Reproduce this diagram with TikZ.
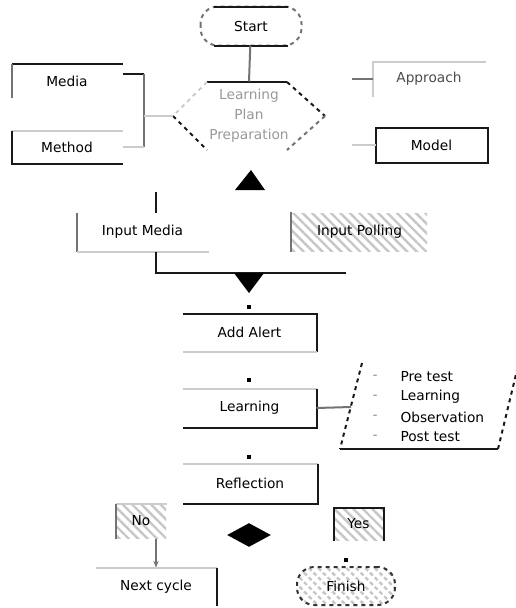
\documentclass[tikz,border=0pt]{standalone}
\usepackage{fontspec}
\setmainfont{DejaVu Sans}
\usetikzlibrary{shapes.geometric,patterns.meta,arrows.meta}

\tikzset{every picture/.style={line width=0.75pt}}
\tikzset{
  dk/.style={draw=black!90, line width=1.5pt},
  gy/.style={draw=black!55, line width=1.5pt},
  lt/.style={draw=black!20, line width=1.5pt},
  box/.style={inner sep=0.75pt, font=\fontsize{10.3}{12}\selectfont},
  hatch/.style={pattern={Lines[angle=-45,distance=5pt,line width=1.8pt]}, pattern color=black!22},
  dot/.style={fill=black, minimum size=2.4pt, inner sep=0pt}
}

\begin{document}
\begin{tikzpicture}[x=0.75pt,y=0.75pt,yscale=-1,xscale=1]
\useasboundingbox (0,0) rectangle (516,608);

%Shape: Terminal [id:start]
\node[box, minimum width=75pt, minimum height=28.5pt] (start) at (251,26) {Start};
\draw[gy, dashed, rounded corners=13pt] (start.north west) rectangle (start.south east);
\draw[dk] ([xshift=10pt]start.north west) -- ([xshift=-10pt]start.north east);
\draw[dk] ([xshift=10pt]start.south west) -- ([xshift=-10pt]start.south east);

%Shape: Hexagon [id:plan]
\node[box, text=black!40, align=center, minimum width=114pt, minimum height=51pt, font=\fontsize{10.3}{15}\selectfont] (plan) at (249,116) {Learning\\Plan\\Preparation};
\draw[dk] (207,82) -- (287,82);
\draw[lt, dashed] (207,82) -- (173,116);
\draw[dk, dashed] (173,116) -- (207,150);
\draw[dk, dashed] (287,82) -- (325,116);
\draw[gy, dashed] (325,116) -- (287,150);
%Straight Lines [id:start-plan]
\draw[gy] (start) -- (plan.north);

%Shape: Rectangle [id:media]
\node[box, minimum width=82.5pt, minimum height=24.75pt] (media) at (67,81) {Media};
\draw[dk] (media.north west) -- (media.north east);
\draw[gy] (media.north west) -- (media.south west);
%Shape: Rectangle [id:method]
\node[box, minimum width=82.5pt, minimum height=24pt] (method) at (67,147) {Method};
\draw[lt] (method.north west) -- (method.north east);
\draw[dk] (method.north west) -- (method.south west) -- (method.south east);
%Straight Lines [id:fork]
\coordinate (fork) at (144,116);
\draw[dk] ([yshift=-5pt]media.east) -- ([yshift=-5pt]media.east -| fork);
\draw[gy] ([yshift=-5pt]media.east -| fork) -- (method.east -| fork);
\draw[lt] (method.east) -- (method.east -| fork);
\draw[lt] (fork) -- (plan.west);

%Shape: Rectangle [id:approach]
\node[box, text=black!70, minimum width=84pt, minimum height=25.5pt] (approach) at (429,79) {Approach};
\draw[lt] (approach.south west) -- (approach.north west) -- (approach.north east);
%Shape: Rectangle [id:model]
\node[box, minimum width=83.25pt, minimum height=25.5pt] (model) at (431.5,145) {Model};
\draw[dk] (model.north west) rectangle (model.south east);
%Straight Lines [id:stubs]
\coordinate (apin) at (352,79);
\coordinate (moin) at (352,145);
\draw[gy] (apin) -- (approach.west);
\draw[lt] (moin) -- (model.west);

%Shape: Triangle [id:up]
\fill (251,170) -- (265,190) -- (235,190) -- cycle;

%Shape: Rectangle [id:imedia]
\node[box, minimum width=98.25pt, minimum height=28.5pt] (imedia) at (142.5,232) {Input Media};
\draw[gy] (imedia.north west) -- (imedia.south west);
\draw[lt] (imedia.south west) -- (imedia.south east);
%Shape: Rectangle [id:ipolling]
\node[box, hatch, minimum width=101.25pt, minimum height=28.5pt] (ipolling) at (359.5,232) {Input Polling};
\draw[gy] (ipolling.north west) -- (ipolling.south west);
%Straight Lines [id:merge]
\coordinate (up) at (156,192);
\coordinate (jl) at (156,273);
\coordinate (jr) at (346,273);
\draw[dk] (up) -- (imedia.north -| up);
\draw[dk] (imedia.south -| jl) -- (jl) -- (jr);
%Shape: Triangle [id:down]
\fill (234,273) -- (264,273) -- (249,293) -- cycle;

\node[dot] (d1) at (249,307) {};
%Shape: Rectangle [id:alert]
\node[box, minimum width=99.75pt, minimum height=27.75pt] (alert) at (249.5,332.5) {Add Alert};
\draw[dk] (alert.north west) -- (alert.north east) -- (alert.south east);
\draw[lt] (alert.south west) -- (alert.south east);

\node[dot] (d2) at (249,380) {};
%Shape: Rectangle [id:learning]
\node[box, minimum width=99.75pt, minimum height=28.5pt] (learning) at (249.5,408) {Learning};
\draw[lt] (learning.north west) -- (learning.north east);
\draw[dk] (learning.north east) -- (learning.south east) -- (learning.south west);

%Shape: Parallelogram [id:list]
\draw[dk, dashed] (362,363) -- (340,449);
\draw[dk] (340,449) -- (498,449);
\draw[dk, dashed] (498,449) -- (518,366);
\coordinate (listin) at (351,407);
\draw[gy] (learning.east) -- (listin);
\foreach \t [count=\i] in {Pre test, Learning, Observation, Post test} {
  \node[box, text=black!45] (dash\i) at (375,357+20*\i) {-};
  \node[box, anchor=west] (item\i) at (399,357+20*\i) {\t};
}

\node[dot] (d3) at (249,457) {};
%Shape: Rectangle [id:reflection]
\node[box, minimum width=100.5pt, minimum height=29.25pt] (reflection) at (250,483.5) {Reflection};
\draw[lt] (reflection.north west) -- (reflection.north east);
\draw[dk] (reflection.north east) -- (reflection.south east) -- (reflection.south west);

%Shape: Diamond [id:check]
\node[diamond, fill=black, minimum width=33pt, minimum height=18pt, inner sep=0pt] (check) at (249,535) {};

%Shape: Rectangle [id:no]
\node[box, hatch, minimum width=37.5pt, minimum height=25.5pt] (no) at (141,521) {No};
\draw[lt] (no.north west) -- (no.north east);
\draw[gy] (no.north west) -- (no.south west);
%Shape: Rectangle [id:yes]
\node[box, hatch, minimum width=36.75pt, minimum height=24pt] (yes) at (358.5,524) {Yes};
\draw[dk] (yes.south west) -- (yes.north west) -- (yes.north east) -- (yes.south east);

%Shape: Rectangle [id:next]
\node[box, minimum width=90pt, minimum height=27.75pt] (next) at (156,586.5) {Next cycle};
\draw[lt] (next.north west) -- (next.north east);
\draw[dk] (next.north east) -- (next.south east);
%Straight Lines [id:no-next]
\draw[gy, line width=1pt, -{Stealth[length=5pt,width=4pt]}] (next.north |- no.south) -- (next.north);

\node[dot] (d4) at (346,560) {};
%Shape: Terminal [id:finish]
\node[box, hatch, draw=black!80, dashed, line width=1.5pt, rounded corners=13pt, minimum width=73.5pt, minimum height=28.5pt] (finish) at (346,586) {Finish};

\end{tikzpicture}
\end{document}
